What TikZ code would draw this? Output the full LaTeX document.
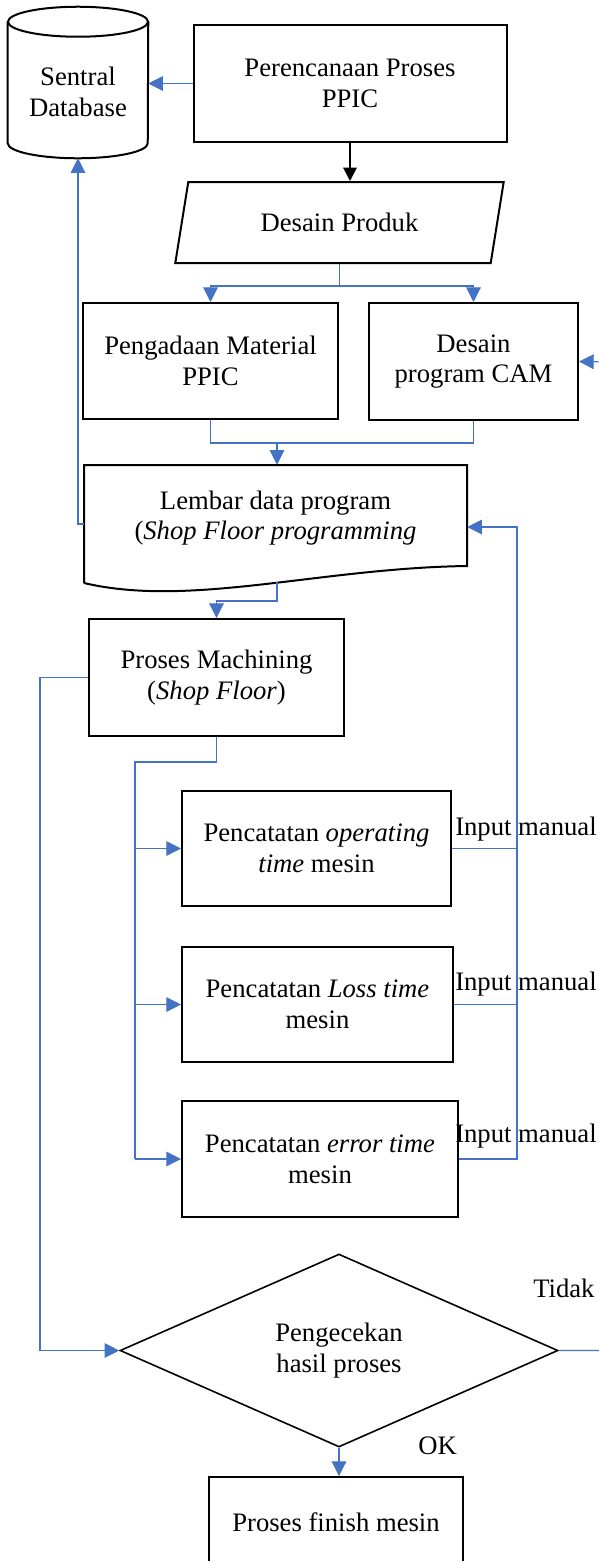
\documentclass[tikz,border=0pt]{standalone}
\usepackage{fontspec}
\setmainfont{Liberation Serif}
\usetikzlibrary{shapes.geometric,arrows.meta,positioning,calc}
\definecolor{flowblue}{RGB}{68,114,196}

\begin{document}
\begin{tikzpicture}[
    x=0.75pt, y=-0.75pt,
    font=\fontsize{20pt}{23pt}\selectfont,
    box/.style={rectangle, draw, line width=1.5pt, align=center, inner sep=2pt},
    frame/.style={rectangle, align=center, inner sep=2pt},
    decision/.style={diamond, draw, line width=1.2pt, align=center, inner sep=0pt},
    inout/.style={trapezium, draw, line width=1.5pt, trapezium left angle=75.5, trapezium right angle=104.5, trapezium stretches=true, align=center},
    link/.style={draw=flowblue, line width=0.8pt},
    arrow/.style={link, -{Triangle[length=11pt,width=11pt]}},
    mainarrow/.style={draw=black, line width=1.5pt, -{Triangle[length=10pt,width=10pt]}},
    note/.style={anchor=base west, inner sep=0pt}
]
\useasboundingbox (0,0) rectangle (599,1561);

% Sentral database
\node[frame, minimum width=105pt, minimum height=113.25pt] (db) at (78,82.5) {};
\draw[line width=1.5pt] ($(db.north west)+(0,15)$) -- ($(db.south west)+(0,-15)$)
    arc[start angle=180, end angle=360, x radius=52.5pt, y radius=11.25pt]
    -- ($(db.north east)+(0,15)$);
\draw[line width=1.5pt] ($(db.north)+(0,15)$) ellipse[x radius=52.5pt, y radius=11.25pt];
\node[frame] (dbtext) at (78,92) {Sentral\\Database};

% Perencanaan proses
\node[box, minimum width=234.75pt, minimum height=87.75pt] (plan) at (350,83.5) {Perencanaan Proses\\PPIC};

% Desain produk
\node[inout, minimum width=246.75pt, minimum height=60.75pt] (design) at (339.5,222.5) {Desain Produk};

% Material and CAM
\node[box, minimum width=191.25pt, minimum height=87pt] (material) at (210.5,361) {Pengadaan Material\\PPIC};
\node[box, minimum width=156.75pt, minimum height=87.75pt] (cam) at (473.5,361.5) {Desain\\program CAM};

% Lembar data program
\node[frame, minimum width=287.25pt, minimum height=88.5pt] (lembar) at (275.5,524) {};
\draw[line width=1.5pt] (84,583) -- (84,465) -- (467,465) -- (467,566)
    .. controls (320,568) and (190,608) .. (84,583);
\node[frame] (lembartext) at (275.5,518) {Lembar data program\\(\textit{Shop Floor programming}};

% Machining
\node[box, minimum width=191.25pt, minimum height=87.75pt] (machining) at (216.5,677.5) {Proses Machining\\(\textit{Shop Floor})};

% Pencatatan
\node[box, minimum width=201.75pt, minimum height=86.25pt] (rec1) at (316.5,848.5) {Pencatatan \textit{operating}\\\textit{time} mesin};
\node[box, minimum width=203.25pt, minimum height=86.25pt] (rec2) at (317.5,1004.5) {Pencatatan \textit{Loss time}\\mesin};
\node[box, minimum width=207pt, minimum height=87pt] (rec3) at (320,1159) {Pencatatan \textit{error time}\\mesin};

% Pengecekan
\node[decision, minimum width=328.5pt, minimum height=144.75pt] (check) at (339,1350.5) {Pengecekan\\hasil proses};

% Finish
\node[box, minimum width=190.5pt, minimum height=67.5pt] (finish) at (336,1522) {Proses finish mesin};

% Labels
\foreach \y/\n in {835/1,990/2,1142/3}
    \node[note] (input\n) at (455,\y) {Input manual};
\node[note] (tidak) at (533,1297) {Tidak};
\node[note] (ok) at (418,1454) {OK};

% Helper points
\coordinate (join) at (277,443);
\coordinate (lembarout) at (277,582);
\coordinate (busL) at (135,762);
\coordinate (busR) at (517,527);
\coordinate (loopR) at (612,362);

% Top part
\draw[arrow] (plan.west) -- (plan.west -| db.east);
\draw[mainarrow] (plan.south) -- (plan.south |- design.north);
\draw[arrow] (design.south) -- ++(0,22) -| (material.north);
\draw[arrow] (design.south) -- ++(0,22) -| (cam.north);
\draw[link] (material.south) |- (join) -| (cam.south);
\draw[arrow] (join) -- (join |- lembar.north);
\draw[arrow] (lembar.west) -| (db.south);

% Machining
\draw[arrow] (lembarout) -- ++(0,19) -| (machining.north);
\draw[arrow] (machining.west) -- ++(-48,0) |- (check.west);
\draw[link] (machining.south) |- (busL) -- (busL |- rec3.west);
\foreach \r in {rec1,rec2,rec3}
    \draw[arrow] (busL |- \r.west) -- (\r.west);

% Input manual
\foreach \r in {rec1,rec2}
    \draw[link] (\r.east) -- (\r.east -| busR);
\draw[arrow] (rec3.east) -| (busR) -- (lembar.east |- busR);

% Pengecekan
\draw[arrow] (check.south) -- (check.south |- finish.north);
\draw[arrow] (check.east) -| (loopR) -- (cam.east);

\end{tikzpicture}
\end{document}
